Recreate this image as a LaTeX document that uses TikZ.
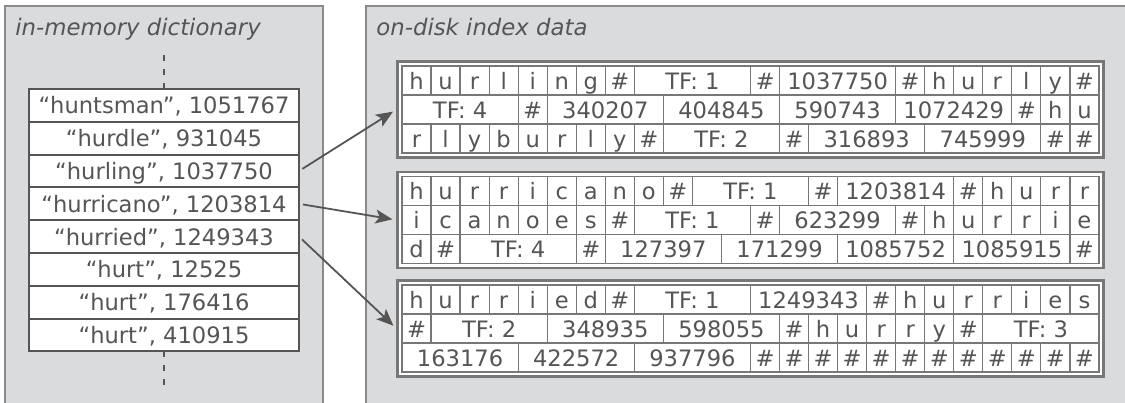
\documentclass[tikz,border=0pt]{standalone}
\usepackage{fontspec}
\setmainfont{DejaVu Sans}
\usetikzlibrary{positioning, arrows.meta}

\definecolor{panelgray}{HTML}{DADBDD}
\definecolor{panelline}{HTML}{8A8A8A}
\definecolor{linegray}{HTML}{777777}
\definecolor{textgray}{HTML}{555555}

% one row of cells, each placed right of the one before
\newcommand{\cellrow}[2]{%
  \foreach \w/\t [count=\i, remember=\i as \j (initially 0)] in {#2}
    \node[cell, minimum width=\w*14.52pt, right=0pt of #1-\j] (#1-\i) {\t};
}

\begin{document}
\begin{tikzpicture}[x=0.5pt, y=-0.5pt, font=\fontsize{11.3pt}{13pt}\selectfont, text=textgray,
    panel/.style={fill=panelgray, draw=panelline, line width=0.8pt},
    title/.style={anchor=base west, inner sep=0pt, font=\fontsize{11.4pt}{13pt}\selectfont\itshape},
    entry/.style={draw=textgray, line width=1pt, fill=white, minimum width=135pt, minimum height=16.4pt, inner sep=0pt, outer sep=0pt, text height=8.5pt, text depth=0pt},
    frame/.style={draw=linegray, line width=1.1pt, fill=white, minimum width=353pt, minimum height=48pt},
    cell/.style={draw=linegray, line width=0.6pt, minimum height=14.5pt, inner sep=0pt, outer sep=0pt, text height=8.5pt, text depth=0pt},
    link/.style={draw=textgray, line width=0.9pt, -{Stealth[length=8.5pt, width=7pt, inset=2pt]}, shorten <=2pt, shorten >=2pt}]
    \useasboundingbox (0,0) rectangle (1125,402);
    \clip (0,0) rectangle (1125,402);

    \draw[panel] (5,6) rectangle (323,410);
    \draw[panel] (366,6) rectangle (1135,410);
    \node[title] (dicttitle) at (15,35) {in-memory dictionary};
    \node[title] (disktitle) at (376,35) {on-disk index data};

    % dictionary
    \node[entry] (huntsman) at (164,105.4) {“huntsman”, 1051767};
    \node[entry, below=0pt of huntsman] (hurdle) {“hurdle”, 931045};
    \node[entry, below=0pt of hurdle] (hurling) {“hurling”, 1037750};
    \node[entry, below=0pt of hurling] (hurricano) {“hurricano”, 1203814};
    \node[entry, below=0pt of hurricano] (hurried) {“hurried”, 1249343};
    \node[entry, below=0pt of hurried] (hurt1) {“hurt”, 12525};
    \node[entry, below=0pt of hurt1] (hurt2) {“hurt”, 176416};
    \node[entry, below=0pt of hurt2] (hurt3) {“hurt”, 410915};
    \coordinate (dtop) at (164,54);
    \coordinate (dbot) at (164,387);
    \draw[textgray, line width=0.8pt, dash pattern=on 3pt off 4pt] (huntsman.north) -- (dtop);
    \draw[textgray, line width=0.8pt, dash pattern=on 3pt off 4pt] (hurt3.south) -- (dbot);

    % index blocks
    \node[frame] (blk1) at (750.5,109.5) {};
    \node[frame] (blk2) at (750.5,220) {};
    \node[frame] (blk3) at (750.5,328.5) {};

    \coordinate (b1a-0) at (402,80.5);
    \coordinate (b1b-0) at (402,109.5);
    \coordinate (b1c-0) at (402,138.5);
    \cellrow{b1a}{1/h,1/u,1/r,1/l,1/i,1/n,1/g,1/\#,4/TF: 1,1/\#,4/1037750,1/\#,1/h,1/u,1/r,1/l,1/y,1/\#}
    \cellrow{b1b}{4/TF: 4,1/\#,4/340207,4/404845,4/590743,4/1072429,1/\#,1/h,1/u}
    \cellrow{b1c}{1/r,1/l,1/y,1/b,1/u,1/r,1/l,1/y,1/\#,4/TF: 2,1/\#,4/316893,4/745999,1/\#,1/\#}

    \coordinate (b2a-0) at (402,191);
    \coordinate (b2b-0) at (402,220);
    \coordinate (b2c-0) at (402,249);
    \cellrow{b2a}{1/h,1/u,1/r,1/r,1/i,1/c,1/a,1/n,1/o,1/\#,4/TF: 1,1/\#,4/1203814,1/\#,1/h,1/u,1/r,1/r}
    \cellrow{b2b}{1/i,1/c,1/a,1/n,1/o,1/e,1/s,1/\#,4/TF: 1,1/\#,4/623299,1/\#,1/h,1/u,1/r,1/r,1/i,1/e}
    \cellrow{b2c}{1/d,1/\#,4/TF: 4,1/\#,4/127397,4/171299,4/1085752,4/1085915,1/\#}

    \coordinate (b3a-0) at (402,299.5);
    \coordinate (b3b-0) at (402,328.5);
    \coordinate (b3c-0) at (402,357.5);
    \cellrow{b3a}{1/h,1/u,1/r,1/r,1/i,1/e,1/d,1/\#,4/TF: 1,4/1249343,1/\#,1/h,1/u,1/r,1/r,1/i,1/e,1/s}
    \cellrow{b3b}{1/\#,4/TF: 2,4/348935,4/598055,1/\#,1/h,1/u,1/r,1/r,1/y,1/\#,4/TF: 3}
    \cellrow{b3c}{4/163176,4/422572,4/937796,1/\#,1/\#,1/\#,1/\#,1/\#,1/\#,1/\#,1/\#,1/\#,1/\#,1/\#,1/\#}

    \draw[link] (hurling.east) -- (blk1.west);
    \draw[link] (hurricano.east) -- (blk2.west);
    \draw[link] (hurried.east) -- (blk3.west);
\end{tikzpicture}
\end{document}
